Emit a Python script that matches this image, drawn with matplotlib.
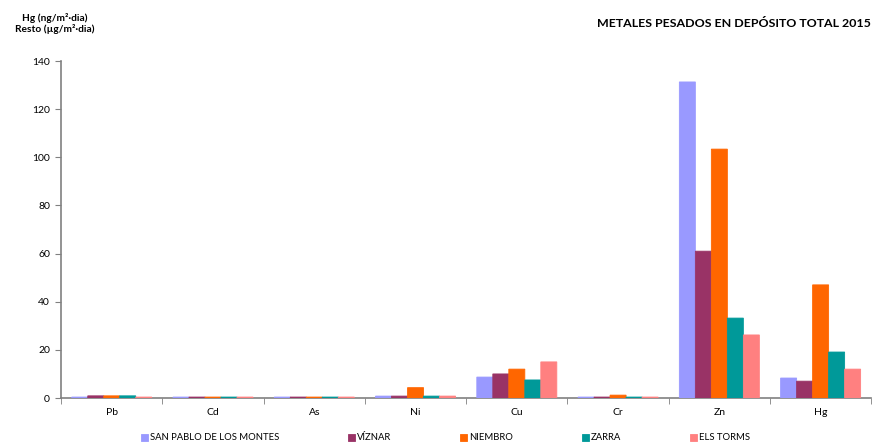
import numpy as np
import matplotlib

matplotlib.use("Agg")
import matplotlib.pyplot as plt

plt.rcParams["font.family"] = ["Lato", "DejaVu Sans"]

# data
metals = ["Pb", "Cd", "As", "Ni", "Cu", "Cr", "Zn", "Hg"]
stations = ["SAN PABLO DE LOS MONTES", "VÍZNAR", "NIEMBRO", "ZARRA", "ELS TORMS"]
san_pablo = [0.4, 0.4, 0.4, 0.8, 8.7, 0.4, 131.3, 8.3]
viznar = [0.9, 0.4, 0.4, 0.8, 10.0, 0.4, 61.0, 7.0]
niembro = [0.9, 0.4, 0.4, 4.3, 12.0, 1.2, 103.4, 47.0]
zarra = [0.9, 0.4, 0.4, 0.8, 7.5, 0.4, 33.2, 19.1]
els_torms = [0.4, 0.4, 0.4, 0.8, 15.0, 0.4, 26.2, 12.0]
colors = ["#9999FF", "#993366", "#FF6600", "#009999", "#FF8080"]

series = [san_pablo, viznar, niembro, zarra, els_torms]

fig = plt.figure(figsize=(8.73, 4.46), dpi=100)
ax = fig.add_axes([0.07, 0.1076, 0.928, 0.7556])

x = np.arange(len(metals))
w = 0.158
for i, (vals, name, c) in enumerate(zip(series, stations, colors)):
    # small values still show as thin strips over the axis line, like in Excel
    ax.bar(x + (i - 2) * w, vals, width=w, color=c, label=name,
           edgecolor=c, linewidth=0.6, zorder=3, snap=False)

ax.set_xlim(-0.5, len(metals) - 0.5)
ax.set_ylim(0, 140)
ax.set_yticks(np.arange(0, 141, 20))
ax.set_xticks(x)
ax.set_xticklabels(metals)
ax.set_xticks(np.arange(-0.5, len(metals), 1), minor=True)
ax.tick_params(axis="x", which="major", length=0, pad=7, labelsize=7.5)
ax.tick_params(axis="x", which="minor", length=4, color="#808080", direction="out")
ax.tick_params(axis="y", length=4, color="#808080", labelsize=7.5, pad=4)

for side in ["top", "right"]:
    ax.spines[side].set_visible(False)
for side in ["left", "bottom"]:
    ax.spines[side].set_color("#808080")
    ax.spines[side].set_linewidth(1.2)
    ax.spines[side].set_zorder(2)

fig.text(0.997, 0.948, "METALES PESADOS EN DEPÓSITO TOTAL 2015", ha="right", va="center",
         fontsize=8.9, fontweight="bold")
fig.text(0.063, 0.948, "Hg (ng/m²·dia)\nResto (µg/m²·dia)", ha="center", va="center",
         fontsize=7.3, fontweight="bold", linespacing=1.15)

fig.legend(loc="center", bbox_to_anchor=(0.51, 0.018), ncol=5, frameon=False,
           fontsize=6.8, handlelength=0.8, handleheight=0.8, handletextpad=0.15,
           columnspacing=7.3)

fig.savefig("out.png")
